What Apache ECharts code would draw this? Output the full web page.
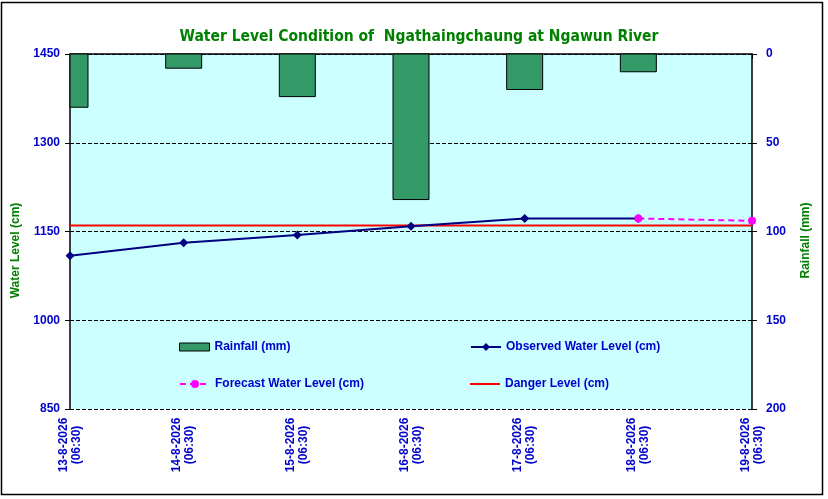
<!DOCTYPE html>
<html>
<head>
<meta charset="utf-8">
<script src="https://cdn.jsdelivr.net/npm/echarts@6/dist/echarts.min.js"></script>
<style>
  html,body{margin:0;padding:0;background:#fff;}
  #b{width:828px;height:499px;}
</style>
</head>
<body>
<div id="b"></div>
<script>
var dates = ['13-8-2026\n(06:30)','14-8-2026\n(06:30)','15-8-2026\n(06:30)','16-8-2026\n(06:30)','17-8-2026\n(06:30)','18-8-2026\n(06:30)','19-8-2026\n(06:30)'];
var rainfall = [30, 8, 24, 82, 20, 10, null];
var observed = [1109, 1131, 1144, 1159, 1172, 1172, null];
var forecast = [null, null, null, null, null, 1172, 1168];
var danger = [1160, 1160, 1160, 1160, 1160, 1160, 1160];

var blue = '#0000CC';
var green = '#008000';
var lblFont = {color: blue, fontWeight: 'bold', fontFamily: 'Liberation Sans, Arial', fontSize: 12};

// bars drawn by a custom series so the first one can be cut at the plot edge
function rainBar(params, api) {
  var v = api.value(1);
  if (v == null || isNaN(v)) return;
  var top = api.coord([api.value(0), 0]);
  var bot = api.coord([api.value(0), v]);
  var w = 36;
  var rect = echarts.graphic.clipRectByRect(
    {x: top[0] - w / 2, y: top[1], width: w, height: bot[1] - top[1]},
    {x: params.coordSys.x, y: params.coordSys.y, width: params.coordSys.width, height: params.coordSys.height}
  );
  if (!rect) return;
  return {type: 'rect', shape: rect, style: {fill: '#339966', stroke: '#000', lineWidth: 1}};
}

var myChart = echarts.init(document.getElementById('b'));
var option = {
  backgroundColor: '#fff',
  animation: false,
  title: {
    text: 'Water Level Condition of  Ngathaingchaung at Ngawun River',
    left: 414, top: 24, textAlign: 'center',
    textStyle: {color: green, fontWeight: 'bold', fontSize: 15.5, fontFamily: 'DejaVu Sans Condensed, DejaVu Sans'}
  },
  graphic: [{
    type: 'rect', shape: {x: 1.5, y: 2.5, width: 821, height: 492},
    style: {fill: 'none', stroke: '#000', lineWidth: 1.5}, silent: true
  }],
  grid: {left: 70, right: 76, top: 54, bottom: 90, show: true, backgroundColor: '#CCFFFF', borderWidth: 0},
  legend: [
    {left: 179, top: 341, padding: 0, itemWidth: 30, itemHeight: 8, data: [{name: 'Rainfall (mm)', icon: 'rect', itemStyle: {color: '#339966', borderColor: '#000', borderWidth: 1}}], textStyle: lblFont},
    {left: 470, top: 341, padding: 0, itemWidth: 30, itemHeight: 10, data: [{name: 'Observed Water Level (cm)'}], textStyle: lblFont},
    {left: 179, top: 378, padding: 0, itemWidth: 30, itemHeight: 10, data: [{name: 'Forecast Water Level (cm)'}], textStyle: lblFont},
    {left: 470, top: 378, padding: 0, itemWidth: 30, itemHeight: 2, data: [{name: 'Danger Level (cm)', icon: 'rect'}], textStyle: lblFont}
  ],
  xAxis: {
    type: 'category',
    data: dates,
    boundaryGap: false,
    axisLine: {lineStyle: {color: '#000', width: 1.5}},
    axisTick: {show: true, length: 5, lineStyle: {color: '#000'}},
    axisLabel: {rotate: 90, interval: 0, margin: 36, color: blue, fontWeight: 'bold', fontSize: 12, fontFamily: 'Liberation Sans, Arial', lineHeight: 13, align: 'center'},
    splitLine: {show: false}
  },
  yAxis: [{
    type: 'value', min: 850, max: 1450, interval: 150, position: 'left',
    name: 'Water Level (cm)', nameLocation: 'middle', nameGap: 48, nameRotate: 90,
    nameTextStyle: {color: green, fontWeight: 'bold', fontSize: 12, fontFamily: 'Liberation Sans, Arial', padding: [0, 38, 0, 0]},
    axisLine: {show: true, lineStyle: {color: '#000', width: 1.5}},
    axisTick: {show: true, length: 5, inside: false, lineStyle: {color: '#000'}},
    axisLabel: {color: blue, fontWeight: 'bold', fontSize: 12, fontFamily: 'Liberation Sans, Arial', margin: 10, formatter: function (v) { return String(v); }},
    splitLine: {show: true, lineStyle: {color: '#000', type: 'dashed', width: 1}}
  }, {
    type: 'value', min: 0, max: 200, interval: 50, position: 'right', inverse: true,
    name: 'Rainfall (mm)', nameLocation: 'middle', nameGap: 48, nameRotate: 90,
    nameTextStyle: {color: green, fontWeight: 'bold', fontSize: 12, fontFamily: 'Liberation Sans, Arial', padding: [0, 18, 0, 0]},
    axisLine: {show: true, lineStyle: {color: '#000', width: 1.5}},
    axisTick: {show: true, length: 5, lineStyle: {color: '#000'}},
    axisLabel: {color: blue, fontWeight: 'bold', fontSize: 12, fontFamily: 'Liberation Sans, Arial', margin: 14},
    splitLine: {show: false}
  }],
  series: [
    {
      name: 'Rainfall (mm)', type: 'custom', yAxisIndex: 1,
      data: rainfall.map(function (v, i) { return [i, v]; }),
      encode: {x: 0, y: 1}, renderItem: rainBar,
      itemStyle: {color: '#339966', borderColor: '#000', borderWidth: 1}
    },
    {
      name: 'Danger Level (cm)', type: 'line', data: danger, showSymbol: false, symbol: 'none',
      lineStyle: {color: '#FF0000', width: 2}, itemStyle: {color: '#FF0000'}
    },
    {
      name: 'Observed Water Level (cm)', type: 'line', data: observed, symbol: 'diamond', symbolSize: 9,
      lineStyle: {color: '#000080', width: 2}, itemStyle: {color: '#000080'}
    },
    {
      name: 'Forecast Water Level (cm)', type: 'line', data: forecast, symbol: 'circle', symbolSize: 8,
      lineStyle: {color: '#FF00FF', width: 2, type: [6, 4]}, itemStyle: {color: '#FF00FF'}
    }
  ]
};
option && myChart.setOption(option);
</script>
</body>
</html>
